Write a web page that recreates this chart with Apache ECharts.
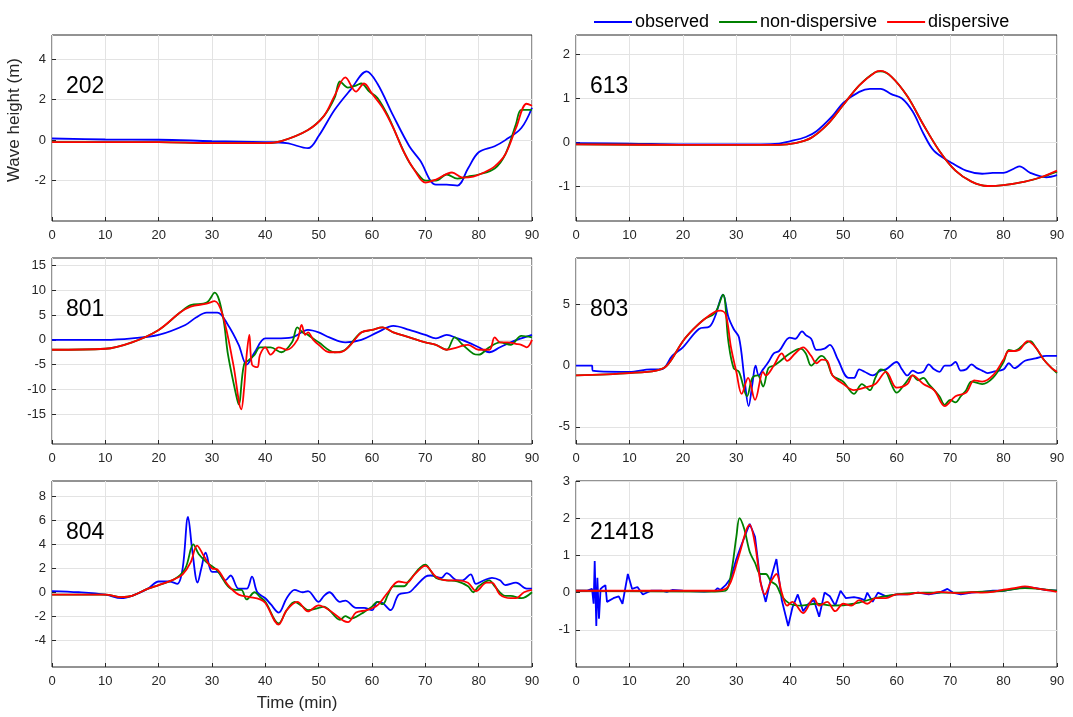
<!DOCTYPE html>
<html>
<head>
<meta charset="utf-8">
<script src="https://cdn.jsdelivr.net/npm/echarts@6/dist/echarts.min.js"></script>
<style>html,body{margin:0;padding:0;background:#fff}#root{width:1073px;height:717px}</style>
</head>
<body>
<div id="root"></div>
<script>
// station names and y ranges
const stations = ["202", "613", "801", "803", "804", "21418"];
const yMin = [-4, -1.8, -21, -6.4, -6.25, -2];
const yMax = [5.2, 2.45, 16.5, 8.8, 9.3, 3];
const yTicks = [
  [-2, 0, 2, 4],
  [-1, 0, 1, 2],
  [-15, -10, -5, 0, 5, 10, 15],
  [-5, 0, 5],
  [-4, -2, 0, 2, 4, 6, 8],
  [-1, 0, 1, 2, 3]
];
const xTicks = [0, 10, 20, 30, 40, 50, 60, 70, 80, 90];

// [time (min), wave height (m)]
const obs202 = [[0,0.08],[10,0.03],[20,0.02],[30,-0.05],[40,-0.1],[44,-0.15],[48,-0.4],[50,0.2],[53,1.5],[56,2.5],[59,3.4],[61,2.8],[64,1.2],[67,-0.3],[69,-1.0],[72,-2.2],[74,-2.2],[76,-2.25],[78,-1.4],[80,-0.6],[83,-0.3],[85,0],[88,0.6],[90,1.6]];
const nd202 = [[0,-0.1],[20,-0.1],[30,-0.15],[40,-0.15],[43,-0.05],[48,0.5],[51,1.2],[53,2.1],[54,2.9],[55.5,2.6],[57,2.7],[58,2.8],[59.5,2.4],[61,2.1],[63,1.2],[65,0],[67,-1.1],[69,-1.8],[70,-2.0],[72,-2.0],[74,-1.7],[76,-1.9],[78,-1.8],[80,-1.7],[83,-1.4],[85,-0.7],[87,0.8],[88,1.5],[90,1.5]];
const d202 = [[0,-0.1],[20,-0.1],[30,-0.15],[40,-0.15],[43,-0.05],[48,0.5],[51,1.2],[53,2.2],[55,3.1],[57,2.4],[58.5,2.8],[60,2.3],[62,1.6],[64,0.6],[66,-0.6],[68,-1.5],[70,-2.1],[72,-1.95],[75,-1.6],[77,-1.85],[79,-1.8],[81,-1.6],[83,-1.3],[85,-0.7],[87,0.6],[89,1.8],[90,1.7]];

const obs613 = [[0,-0.02],[10,-0.03],[20,-0.05],[30,-0.05],[38,-0.03],[40,0.02],[43,0.12],[45,0.25],[48,0.6],[50,0.9],[53,1.15],[55,1.22],[57,1.22],[59,1.1],[61,1.0],[63,0.7],[65,0.2],[67,-0.2],[70,-0.45],[73,-0.65],[76,-0.72],[78,-0.7],[80,-0.7],[82,-0.6],[83,-0.55],[85,-0.7],[88,-0.8],[90,-0.75]];
const nd613 = [[0,-0.05],[20,-0.06],[38,-0.06],[41,-0.02],[44,0.1],[47,0.4],[50,0.85],[53,1.3],[56,1.6],[57,1.62],[59,1.5],[62,1.05],[65,0.4],[68,-0.2],[71,-0.65],[74,-0.9],[77,-1.0],[80,-0.98],[84,-0.9],[87,-0.8],[90,-0.67]];
const d613 = [[0,-0.05],[20,-0.06],[38,-0.06],[41,-0.02],[44,0.1],[47,0.4],[50,0.85],[53,1.3],[56,1.6],[57,1.63],[59,1.5],[62,1.05],[65,0.4],[68,-0.2],[71,-0.65],[74,-0.9],[77,-1.0],[80,-0.98],[84,-0.9],[87,-0.8],[90,-0.65]];

const obs801 = [[0,0],[10,0],[15,0.3],[20,1],[25,3],[27,4.5],[29,5.5],[31,5.5],[33,3],[35,-1],[36.5,-5],[38,-2.5],[40,0.3],[42,0.3],[45,0.5],[48,2],[50,1.5],[52,0.5],[55,-0.5],[58,0],[61,1.5],[64,2.8],[67,2],[70,1],[72,0.3],[74,1],[76,0.3],[78,-0.5],[80,-1.5],[82,-2.5],[84,-1.5],[86,-0.5],[88,0.3],[90,1]];
const nd801 = [[0,-2],[10,-1.8],[15,-0.5],[20,2],[24,5.5],[26,7],[29,7.5],[30.5,9.5],[32,5],[33,-3],[34.5,-11],[35,-13],[36,-5],[37,-4],[38,-3],[39,-1.5],[41,-1.5],[43,-2.5],[45,-0.5],[46,2.5],[47,1.5],[48,1],[50,-0.5],[53,-2.5],[55,-2],[57,0.5],[58,1.5],[60,2],[62,2.5],[64,1.5],[67,0.5],[70,-0.5],[72,-1],[74,-2],[75.5,0.5],[77,-1],[79,-2.8],[80,-3],[82,-1.5],[84,-0.5],[86,-1],[88,0.8],[90,0.5]];
const d801 = [[0,-2],[10,-1.8],[15,-0.5],[20,2],[24,5.5],[26,6.7],[29,7.3],[30.5,7.8],[32,5],[34,-5],[35.5,-14],[36,-10],[36.5,-3],[37,1],[37.5,-5],[38.5,-5.5],[39,-3],[40,-1.5],[41,-3],[42.5,-1.5],[44,-2],[46,0],[46.8,3],[47.5,1],[48,1.5],[49,0],[50,-1],[52,-2.5],[54,-2.5],[56,-1],[58,1.5],[60,2],[62,2.5],[64,1.5],[67,0.5],[70,-0.5],[72,-1],[74,-2],[76,-1.5],[78,-1],[80,-2],[82,-2],[83,0.5],[84,-0.5],[85.5,-0.5],[87,-0.8],[88,-1],[89,-1.5],[90,0]];

const obs803 = [[0,0],[3,0],[3.1,-0.4],[10,-0.5],[14,-0.3],[16,-0.3],[18,0.8],[20,1.5],[23,3],[25,3.2],[26,4],[27.5,5.8],[28.5,4],[29.5,3],[30.5,2.3],[31.5,-1],[32.3,-3.3],[33,-1.5],[33.6,0],[34.2,-0.8],[35,-0.3],[36,0.3],[37,1],[38,1.2],[40,2.3],[41,2.2],[42.3,2.8],[43,2.5],[44,2.2],[45,1.3],[46.5,1.4],[47.5,1.7],[49,0.5],[51,-1],[52,-1],[53,-0.3],[54,-0.5],[55.5,-0.8],[57,-0.4],[58,-0.3],[60,0.3],[61,-0.3],[62,-0.8],[63,-0.4],[64,-0.6],[65,-0.5],[66,0.1],[67,-0.3],[68,-0.5],[69,0],[70,0],[71,0.3],[72,-0.4],[73,-0.3],[74,0.1],[75,-0.2],[76,-0.4],[77,-0.6],[78,-0.5],[80,-0.3],[81,0.2],[82,-0.2],[84,0.4],[86,0.6],[88,0.8],[90,0.8]];
const nd803 = [[0,-0.8],[10,-0.6],[15,-0.4],[17,0],[20,2],[22,3],[24,3.8],[26,4.3],[27.5,5.8],[28.5,2],[29.5,-0.2],[30.5,-0.5],[32,-2.5],[33,-1],[34,-0.8],[35,-1.7],[36,-0.2],[37,0],[38,0.3],[40,1],[42,1.4],[43,1],[44,0],[45.5,0.7],[46,0.8],[47,0.3],[48,-0.8],[50,-1.3],[52,-2.3],[53.5,-1.5],[55,-2],[56,-1],[57,-0.3],[58,-0.5],[59,-1.5],[60,-2.2],[61.5,-1.5],[63,-0.8],[64,-1.2],[65,-1],[66,-1.5],[68,-2.5],[69,-3.2],[70,-2.8],[71,-3],[72,-2.5],[73,-2],[74,-1.3],[76,-1.5],[78,-1],[80,0.3],[81,1.3],[82,1.2],[84,1.8],[85,2],[86,1.5],[87.5,0.5],[89,-0.2],[90,-0.6]];
const d803 = [[0,-0.8],[10,-0.6],[15,-0.4],[17,0],[20,2],[22,3],[24,3.8],[26,4.4],[27,4.5],[28,4.2],[29,1.5],[30,-0.5],[31,-2.3],[32.2,-1],[33.5,-2.8],[35,-0.5],[35.5,-0.8],[37,0],[38.5,1],[39.5,0.4],[41,1],[42.5,1.5],[44,0.8],[45,0.2],[46,0.5],[47,0.4],[48,-0.8],[50,-1.5],[52,-2],[54,-1.8],[56,-1.5],[58,-0.5],[60,-1.8],[62,-1.5],[63,-0.8],[65,-1.5],[67,-2],[69,-3.3],[71,-2.5],[73,-2.2],[74.5,-1.2],[76,-1.3],[78,-0.8],[80,0.5],[81,1.2],[82,1.2],[83,1.3],[84.5,2],[86,1.5],[87.5,0.5],[89,-0.2],[90,-0.5]];

const obs804 = [[0,0.1],[5,0],[10,-0.2],[13,-0.5],[15,-0.3],[18,0.3],[20,0.9],[22,0.9],[23.5,0.7],[24.5,2],[25.5,6.3],[26.3,3.5],[27.3,0.8],[28,2],[28.8,3.3],[30,1.7],[31,1.7],[32.5,1],[33.5,1.4],[35,0.3],[36.5,0.3],[37.5,1.3],[38.5,0],[40,-0.5],[41,-1],[42.5,-1.7],[44,-0.5],[45.5,0.2],[47,0],[48,0.1],[50,-0.8],[51,-0.3],[52,0],[54,-0.8],[55,-0.7],[57,-1.3],[58.5,-1.3],[60,-1.5],[61,-0.8],[62,-0.9],[63.5,-1.5],[65,-0.2],[67,0],[68,0.4],[70,1.3],[71,1.4],[73,1.2],[74,1.6],[76,1],[77,1],[78.5,1.5],[79.5,0.7],[81,1],[82.5,1.2],[84,1],[85,0.6],[87,0.8],[89,0.3],[90,0.3]];
const nd804 = [[0,-0.2],[10,-0.2],[13,-0.4],[15,-0.3],[18,0.3],[20,0.6],[23,1.1],[25,2],[26.5,4],[27.5,3.2],[29,2.5],[31,1.8],[33,0.5],[34.5,0.2],[35.5,0.2],[36.5,-0.6],[38,0],[39,-0.4],[40,-0.8],[42.5,-2.6],[44,-1.5],[45.5,-0.8],[47,-1.2],[48,-1.5],[50,-1.3],[51,-1.2],[52,-1.5],[54,-2.3],[55,-2],[56,-2.2],[58,-1.8],[59,-1.5],[60,-1.2],[61,-0.8],[62,-1],[63,-0.2],[64,0.5],[66,0.5],[67,1.0],[70,2.3],[71,1.8],[72,1.2],[74,1],[76,0.9],[78,0.5],[79,0],[80,0.5],[82,1],[83,0.5],[85,-0.3],[86,-0.3],[88,-0.5],[90,0]];
const d804 = [[0,-0.2],[10,-0.2],[13,-0.4],[15,-0.3],[18,0.3],[20,0.6],[23,1.1],[24.5,1.5],[26,2.5],[27.2,3.9],[28.5,3],[30,2],[31,1.9],[33,0.6],[35,-0.2],[37,-0.4],[39,-0.6],[40,-0.9],[42.5,-2.7],[44,-1.5],[46,-0.8],[48,-1.6],[50,-1.1],[52,-1.5],[55.5,-2.5],[57,-1.7],[59,-1.5],[61,-1.1],[63,0],[65,0.9],[66.5,0.8],[68,1.5],[70,2.2],[72,1.3],[74,1],[76,1],[78,0.8],[79.5,0.1],[81.5,0.8],[82.5,0.8],[84,-0.2],[86,-0.5],[87,-0.5],[88.5,0],[90,0.2]];

const obs21418 = [[0,0.05],[2,0.05],[3,0.1],[3.3,-0.3],[3.5,0.85],[3.8,-0.9],[4,0.4],[4.3,-0.7],[4.6,0.1],[5,0.15],[5.5,0.2],[5.8,-0.25],[7,-0.15],[8,-0.1],[8.7,-0.3],[9.7,0.5],[10.5,0.1],[11.5,0.15],[12.5,-0.05],[14,0.05],[16,0.05],[17,0.02],[18,0.07],[20,0.05],[24,0.03],[26,0.05],[26.5,0.12],[27,0.07],[28,0.2],[29,0.4],[30,0.9],[31,1.3],[32.5,1.85],[33.5,1.5],[34.5,0.3],[35.5,-0.25],[36.5,0.4],[37.5,0.9],[38.5,-0.2],[39.7,-0.9],[40.5,-0.4],[41.5,-0.05],[42.5,-0.5],[43.5,-0.3],[44.5,-0.2],[45.5,-0.65],[46.5,0],[47.5,-0.1],[48.5,-0.35],[49.5,0.05],[50.5,-0.15],[52,-0.12],[53,-0.15],[54,-0.2],[54.5,0],[55.5,-0.25],[56.5,0],[58,-0.1],[60,-0.05],[62,-0.05],[64,0],[66,-0.05],[68,0],[69.5,0.1],[70.5,0],[72,-0.05],[74,0],[76,0.02],[78,0.05],[80,0.05],[82,0.1],[84,0.15],[86,0.12],[88,0.07],[90,0.05]];
const nd21418 = [[0,0.05],[26,0.03],[28,0.05],[29,0.5],[30,1.5],[30.6,2.0],[31.5,1.7],[32.5,1.1],[33.5,0.8],[34.5,0.5],[35.5,0.5],[36.5,0.3],[37.5,0.2],[38.5,-0.1],[40,-0.3],[42,-0.35],[45,-0.3],[48,-0.35],[52,-0.3],[56,-0.15],[60,-0.05],[65,0],[70,0],[75,0.02],[80,0.05],[84,0.12],[88,0.08],[90,0.05]];
const d21418 = [[0,0.05],[26,0.05],[28,0.1],[29,0.3],[30.5,1.0],[32.5,1.82],[33.5,1.3],[34.5,0.3],[35.3,-0.05],[36.5,0.3],[37.5,0.5],[38.5,0],[39.5,-0.35],[40.5,-0.25],[42.5,-0.55],[44.5,-0.15],[45.5,-0.35],[47,-0.25],[48.5,-0.5],[50,-0.3],[51.5,-0.35],[53,-0.2],[54.5,-0.3],[56,-0.15],[58,-0.15],[60,-0.05],[62,-0.05],[64,0],[66,-0.03],[68,0.02],[70,0],[72,-0.02],[74,0.01],[76,0],[78,0.02],[80,0.08],[82,0.12],[84,0.17],[86,0.12],[88,0.07],[90,0.02]];

const observed = [obs202, obs613, obs801, obs803, obs804, obs21418];
const nonDispersive = [nd202, nd613, nd801, nd803, nd804, nd21418];
const dispersive = [d202, d613, d801, d803, d804, d21418];

const names = ["observed", "non-dispersive", "dispersive"];
const colors = ["#0000ff", "#008000", "#ff0000"];
const FONT = "Liberation Sans, Arial, sans-serif";

const chart = echarts.init(document.getElementById("root"), null, { renderer: "canvas" });

const grids = [], xAxes = [], yAxes = [], series = [], titles = [];
const lefts = [52, 576], tops = [35, 258, 481];
for (let i = 0; i < 6; i++) {
  const col = i % 2, row = Math.floor(i / 2);
  grids.push({
    left: lefts[col], top: tops[row], width: col === 0 ? 480 : 481, height: 186,
    show: true, borderColor: "#262626", borderWidth: 1, backgroundColor: "#fff"
  });
  xAxes.push({
    type: "value", gridIndex: i, min: 0, max: 90, interval: 10,
    axisLine: { show: false, onZero: false },
    axisTick: { inside: true, length: 4, lineStyle: { color: "#262626" } },
    axisLabel: { color: "#262626", fontSize: 13, fontFamily: FONT, margin: 8 },
    splitLine: { lineStyle: { color: "#e3e3e3" } }
  });
  yAxes.push({
    type: "value", gridIndex: i, min: yMin[i], max: yMax[i],
    axisLine: { show: false, onZero: false },
    axisTick: { inside: true, length: 4, customValues: yTicks[i], lineStyle: { color: "#262626" } },
    axisLabel: { color: "#262626", fontSize: 13, fontFamily: FONT, customValues: yTicks[i], margin: 6 },
    splitLine: { lineStyle: { color: "#e3e3e3" } }
  });
  titles.push({
    text: stations[i], left: lefts[col] + 9, top: tops[row] + 35,
    textStyle: { fontSize: 23, fontWeight: "normal", color: "#000", fontFamily: FONT }
  });
  [observed[i], nonDispersive[i], dispersive[i]].forEach((d, k) => {
    series.push({
      name: names[k], type: "line", xAxisIndex: i, yAxisIndex: i, data: d,
      showSymbol: false, smooth: (i === 5 && k === 0) ? false : 0.35,
      lineStyle: { color: colors[k], width: 1.8 }, itemStyle: { color: colors[k] },
      z: k === 2 ? 4 : 3, silent: true, animation: false
    });
  });
}

titles.push({
  text: "Time (min)", left: 292, top: 690, textAlign: "center",
  textStyle: { fontSize: 17, fontWeight: "normal", color: "#262626", fontFamily: FONT }
});

chart.setOption({
  animation: false,
  title: titles,
  legend: {
    data: names, top: 8, left: 589, itemWidth: 38, itemHeight: 2, itemGap: 10,
    icon: "rect",
    textStyle: { fontSize: 18, color: "#000", fontFamily: FONT, padding: [0, 0, 0, -2] }
  },
  graphic: [{
    type: "text", left: 6, top: 128 - 70, rotation: Math.PI / 2,
    style: { text: "Wave height (m)", fontSize: 17, fill: "#262626", font: "17px " + FONT }
  }],
  grid: grids, xAxis: xAxes, yAxis: yAxes, series: series
});
</script>
</body>
</html>
